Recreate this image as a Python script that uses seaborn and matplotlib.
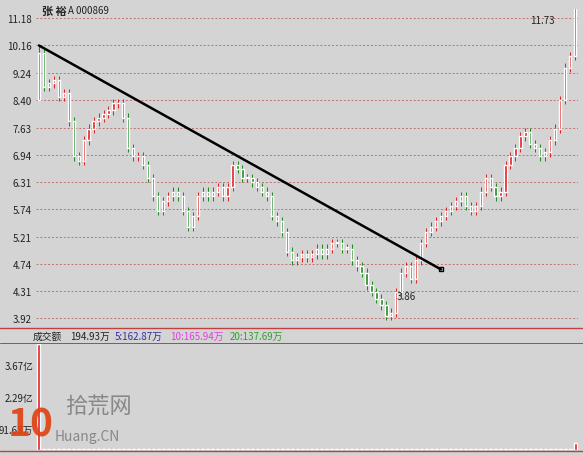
import numpy as np
import pandas as pd
import matplotlib
matplotlib.use("Agg")
import matplotlib.pyplot as plt
import seaborn as sns

closes = [9.9, 8.8, 8.9, 9.0, 8.5, 8.6, 7.8, 6.9, 6.8, 7.3, 7.6, 7.8, 7.9, 8.0, 8.1, 8.3, 8.3, 7.9, 7.1, 6.9,
          6.9, 6.7, 6.4, 6.0, 5.7, 5.9, 6.0, 6.1, 6.0, 5.7, 5.4, 5.6, 6.0, 6.1, 6.0, 6.1, 6.2, 6.0, 6.2, 6.7,
          6.6, 6.4, 6.4, 6.3, 6.2, 6.1, 6.0, 5.6, 5.5, 5.3, 4.95, 4.8, 4.85, 4.9, 4.85, 4.9, 5.0, 4.9, 5.0, 5.1,
          5.1, 5.0, 5.0, 4.8, 4.7, 4.6, 4.4, 4.3, 4.2, 4.1, 3.95, 4.0, 4.3, 4.6, 4.7, 4.5, 4.8, 5.1, 5.3, 5.4,
          5.5, 5.6, 5.7, 5.8, 5.9, 6.0, 5.8, 5.7, 5.8, 6.1, 6.4, 6.2, 6.0, 6.1, 6.7, 6.9, 7.1, 7.4, 7.5, 7.2,
          7.1, 6.9, 7.0, 7.3, 7.6, 8.4, 9.4, 9.8, 11.7]
first_open = 8.4
volumes = [4.6] + [0.06] * 107 + [0.3]  # 亿
price_ticks = [11.18, 10.16, 9.24, 8.40, 7.63, 6.94, 6.31, 5.74, 5.21, 4.74, 4.31, 3.92]
vol_ticks = [0.9163, 2.29, 3.67]
vol_labels = ["91.63万", "2.29亿", "3.67亿"]
trend_x = [0, 81]
trend_y = [10.16, 4.65]

n = len(closes)
opens = [first_open] + closes[:-1]
idx = np.arange(n)
df = pd.DataFrame({"i": idx, "o": opens, "c": closes, "v": volumes})
df["hi"] = df[["o", "c"]].max(axis=1) * 1.015
df["lo"] = df[["o", "c"]].min(axis=1) * 0.985
df.loc[0, "hi"] = 10.16
df.loc[0, "lo"] = 8.4
df["up"] = df["c"] >= df["o"]

sns.set_style("white")
plt.rcParams['font.family'] = ['Noto Sans CJK SC', 'DejaVu Sans']
bg = "#d4d4d4"
W, H = 583, 456
fig = plt.figure(figsize=(W / 100, H / 100), dpi=100, facecolor=bg)

def axrect(l, t, r, b):
    return [l / W, 1 - b / H, (r - l) / W, (b - t) / H]

ax = fig.add_axes(axrect(36, 10, 578, 326), facecolor=bg)
ax.set_yscale("log")
ax.set_ylim(3.83, 11.54)
ax.set_xlim(-0.6, n - 0.4)
for t in price_ticks:
    ax.axhline(t, color="#c07070", lw=0.7, ls=(0, (2, 2)), zorder=0)
red, green = "#e02020", "#1a8a1a"
cols = np.where(df["up"], red, green)
ax.vlines(df["i"], df["lo"], df["hi"], colors=cols, lw=0.7, zorder=2)
ax.bar(df["i"], (df["c"] - df["o"]).abs().clip(lower=0.02), bottom=df[["o", "c"]].min(axis=1),
       width=0.45, color=cols, zorder=3)
sns.lineplot(x=trend_x, y=trend_y, ax=ax, color="black", lw=1.8, zorder=4)
ax.plot(trend_x[1], trend_y[1], marker="s", ms=3, mfc="none", mec="black")
imin = int(np.argmin(closes))
ax.text(imin + 2, closes[imin] * 1.06, "3.86", fontsize=7, color="#222")
ax.text(n - 5, 11.0, "11.73", fontsize=7, color="#222", ha="right")
ax.set_yticks(price_ticks)
ax.set_yticklabels([f"{t:.2f}" for t in price_ticks], fontsize=7, color="#222")
ax.minorticks_off()
ax.tick_params(axis="y", length=0, pad=3)
ax.set_xticks([])
for s in ax.spines.values():
    s.set_visible(False)
fig.text(42 / W, 1 - 11 / H, "张 裕", fontsize=8, weight="bold", va="center")
fig.text(68 / W, 1 - 11 / H, "A 000869", fontsize=7, va="center", color="#222")

fig.add_artist(plt.Line2D([0, 1], [1 - 329 / H] * 2, color="#c04040", lw=1))
fig.add_artist(plt.Line2D([0, 1], [1 - 344 / H] * 2, color="#c04040", lw=0.7))
fig.add_artist(plt.Line2D([0, 1], [1 - 452 / H] * 2, color="#c04040", lw=1))
hy = 1 - 337 / H
fig.text(33 / W, hy, "成交额", fontsize=7, va="center", color="#222")
fig.text(70 / W, hy, "194.93万", fontsize=7, va="center", color="#222")
fig.text(115 / W, hy, "5:162.87万", fontsize=7, va="center", color="#3030a0")
fig.text(170 / W, hy, "10:165.94万", fontsize=7, va="center", color="#e040e0")
fig.text(230 / W, hy, "20:137.69万", fontsize=7, va="center", color="#30a030")

vax = fig.add_axes(axrect(36, 345, 578, 451), facecolor=bg)
vax.bar(df["i"], df["v"], width=0.6, color=cols)
vax.set_xlim(-0.6, n - 0.4)
vax.set_ylim(0, 4.6)
vax.set_yticks(vol_ticks)
vax.set_yticklabels(vol_labels, fontsize=7, color="#222")
vax.tick_params(axis="y", length=0, pad=2)
vax.set_xticks([])
for s in vax.spines.values():
    s.set_visible(False)

fig.text(8 / W, 1 - 425 / H, "10", fontsize=28, weight="bold", color="#e04010", va="center", alpha=0.9)
fig.text(65 / W, 1 - 407 / H, "拾荒网", fontsize=16, color="#888888", va="center")
fig.text(55 / W, 1 - 437 / H, "Huang.CN", fontsize=10, color="#888888", va="center")

fig.savefig("out.png", dpi=100, facecolor=bg)
